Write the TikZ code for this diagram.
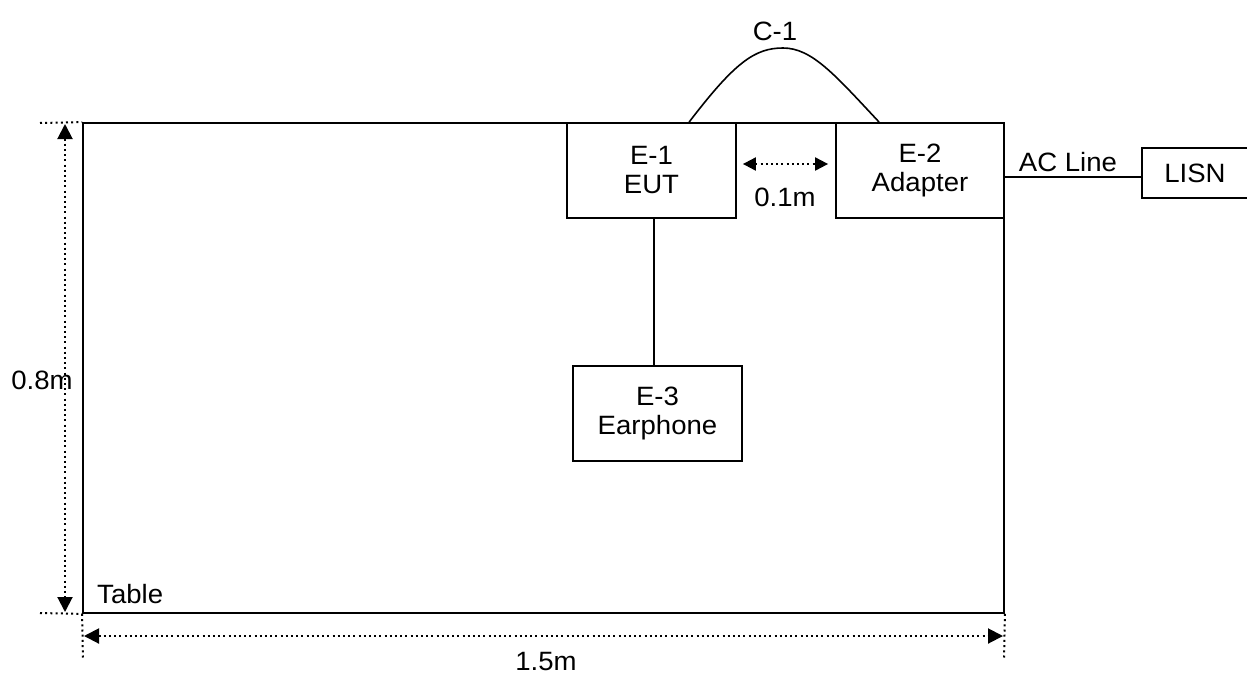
\documentclass[tikz,border=0pt]{standalone}
\usepackage{fontspec}
\setmainfont{Liberation Sans}[FakeStretch=1.04]
\usetikzlibrary{arrows.meta,calc}
\begin{document}
\begin{tikzpicture}[x=1pt,y=-1pt,
  every node/.style={font=\fontsize{26.5}{29}\selectfont, inner sep=0pt},
  box/.style={draw, line width=1.8pt, align=center},
  wire/.style={line width=1.6pt},
  dotln/.style={line width=2pt, dash pattern=on 2pt off 3.2pt},
  dimarrow/.style={dotln, {Triangle[length=15pt,width=15pt]}-{Triangle[length=15pt,width=15pt]}},
  smallarrow/.style={dotln, {Triangle[length=13pt,width=13pt]}-{Triangle[length=13pt,width=13pt]}}]
\useasboundingbox (0,0) rectangle (1247,675);
% table
\node[box, minimum width=921pt, minimum height=490pt] (table) at (543.5,368) {};
\node[anchor=west] (tablelbl) at (97,594) {Table};
% devices
\node[box, minimum width=169pt, minimum height=95pt] (E1) at (651.5,170.5) {E-1\\EUT};
\node[box, minimum width=168pt, minimum height=95pt] (E2) at (920,170.5) {E-2\\Adapter};
\node[box, minimum width=169pt, minimum height=95pt] (E3) at (657.5,413.5) {E-3\\Earphone};
\node[box, minimum width=106pt, minimum height=50pt] (LISN) at (1195,173) {LISN};
% C-1 cable
\coordinate (c1a) at ($(E1.north west)+(123,0)$);
\coordinate (c1b) at ($(E2.north west)+(44,0)$);
\draw[wire] (c1a) .. controls (735,62) and (755,48) .. (783,48)
  .. controls (812,48) and (835,75) .. (c1b);
\node (c1lbl) at (775,31) {C-1};
% EUT to earphone
\coordinate (eutb) at ($(E1.south)+(2.5,0)$);
\draw[wire] (eutb) -- (eutb |- E3.north);
% AC line
\coordinate (acR) at ($(LISN.west)+(0,4)$);
\draw[wire] (acR) -- (acR -| E2.east);
\node (aclbl) at (1068,162) {AC Line};
% 0.1m spacing
\coordinate (sp1) at ($(E1.east)+(6,-6.5)$);
\coordinate (sp2) at ($(E2.west)+(-7,-6.5)$);
\draw[smallarrow] (sp1) -- (sp2);
\node (splbl) at (785,197) {0.1m};
% vertical dimension 0.8m
\coordinate (vt) at (40,123);
\coordinate (vb) at (40,613);
\draw[dotln] (vt) -- (table.north west);
\draw[dotln] (vb) -- (table.south west);
\coordinate (vdt) at (65,124);
\coordinate (vdb) at (65,612);
\draw[dimarrow] (vdt) -- (vdb);
\node (vlbl) at (42,380) {0.8m};
% horizontal dimension 1.5m
\coordinate (hl) at (83,660);
\coordinate (hr) at (1004,660);
\draw[dotln] (table.south west) -- (hl);
\draw[dotln] (table.south east) -- (hr);
\coordinate (hdl) at (84,636);
\coordinate (hdr) at (1003,636);
\draw[dimarrow] (hdl) -- (hdr);
\node (hlbl) at (546,662) {1.5m};
\end{tikzpicture}
\end{document}
